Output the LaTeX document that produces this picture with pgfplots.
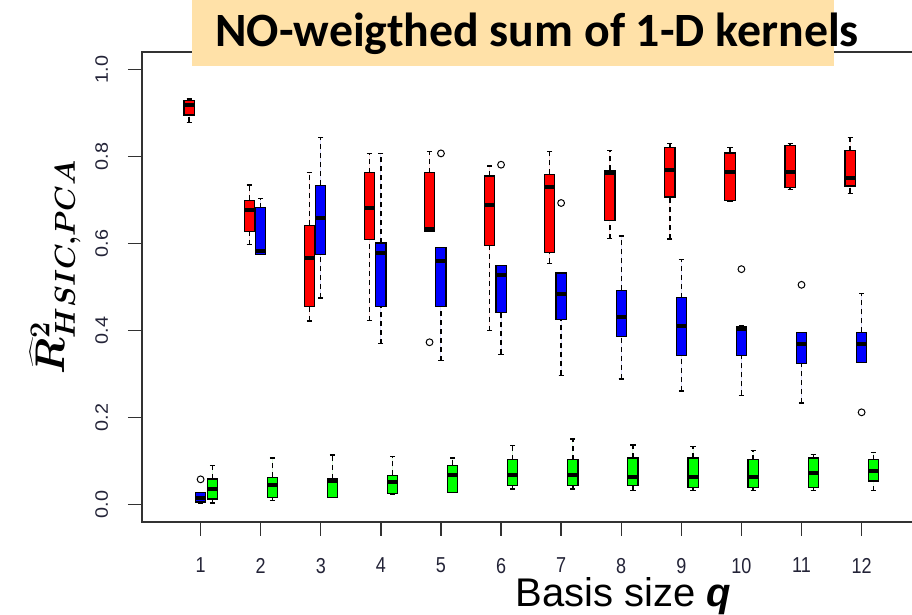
\documentclass[border=0pt]{standalone}
\usepackage{fontspec}
\setmainfont{Liberation Sans}
\newfontfamily\titlefont{Carlito}
\usepackage{bm}
\usepackage{pgfplots}
\pgfplotsset{compat=1.18}
\usepgfplotslibrary{statistics}

\definecolor{titlebg}{RGB}{255,225,168}
\definecolor{ticktext}{RGB}{35,35,55}
\definecolor{frame}{RGB}{50,50,50}

% one box: colour, position, lower whisker, Q1, median, Q3, upper whisker, outliers
\newcommand{\bx}[8]{%
  \addplot[fill=#1, draw=black, line width=0.6pt,
    mark=o, mark size=1.7pt, mark options={solid, draw=black, line width=0.5pt},
    boxplot prepared={draw position=#2, lower whisker=#3, lower quartile=#4,
      median=#5, upper quartile=#6, upper whisker=#7}]
    coordinates {#8};}

\pgfplotsset{
  boxplot/draw direction=y,
  boxplot/box extend=0.17,
  boxplot/whisker extend=0.085,
  boxplot/every median/.style={line width=2pt},
  boxplot/draw/lower whisker/.code={%
    \draw[dash pattern=on 2.5pt off 2pt, line width=0.7pt]
      (boxplot box cs:\pgfplotsboxplotvalue{lower whisker},0.5) --
      (boxplot box cs:\pgfplotsboxplotvalue{lower quartile},0.5);
    \draw[solid, line width=0.7pt]
      (boxplot whisker cs:\pgfplotsboxplotvalue{lower whisker},0) --
      (boxplot whisker cs:\pgfplotsboxplotvalue{lower whisker},1);
  },
  boxplot/draw/upper whisker/.code={%
    \draw[dash pattern=on 2.5pt off 2pt, line width=0.7pt]
      (boxplot box cs:\pgfplotsboxplotvalue{upper quartile},0.5) --
      (boxplot box cs:\pgfplotsboxplotvalue{upper whisker},0.5);
    \draw[solid, line width=0.7pt]
      (boxplot whisker cs:\pgfplotsboxplotvalue{upper whisker},0) --
      (boxplot whisker cs:\pgfplotsboxplotvalue{upper whisker},1);
  },
}

\begin{document}
\begin{tikzpicture}
\begin{axis}[
    at={(0pt,0pt)}, anchor=south west,
    scale only axis, width=389.1pt, height=235pt,
    xmin=0.025, xmax=12.975, ymin=-0.04, ymax=1.04,
    xtick={1,2,3,4,5,6,7,8,9,10,11,12},
    ytick={0,0.2,0.4,0.6,0.8,1},
    xtick pos=bottom, ytick pos=left,
    tick align=outside, major tick length=7pt,
    major tick style={frame, line width=0.7pt},
    axis line style={frame, line width=0.9pt},
    /pgf/number format/assume math mode=true,
    yticklabel style={/pgf/number format/.cd, fixed, fixed zerofill, precision=1, /tikz/.cd,
      font=\fontsize{9}{10}\selectfont, text=ticktext, xshift=-6.5pt, rotate=90, xscale=1.1, anchor=south},
    xticklabel style={font=\fontsize{9}{10}\selectfont, text=ticktext, inner sep=0.5pt,
      yshift=-10.2pt, yscale=1.2},
]
% q = 1
\bx{red}{0.81}{0.878}{0.895}{0.918}{0.929}{0.932}{}
\bx{blue}{1.0}{0.004}{0.006}{0.014}{0.027}{0.028}{(0,0.058)}
\bx{green}{1.195}{0.004}{0.013}{0.036}{0.059}{0.090}{}
% q = 2
\bx{red}{1.81}{0.597}{0.627}{0.678}{0.699}{0.734}{}
\bx{blue}{2.0}{0.574}{0.574}{0.582}{0.682}{0.703}{}
\bx{green}{2.195}{0.009}{0.017}{0.044}{0.063}{0.107}{}
% q = 3
\bx{red}{2.81}{0.422}{0.456}{0.567}{0.642}{0.763}{}
\bx{blue}{3.0}{0.475}{0.575}{0.659}{0.734}{0.843}{}
\bx{green}{3.195}{0.017}{0.017}{0.054}{0.059}{0.114}{}
% q = 4
\bx{red}{3.81}{0.423}{0.610}{0.681}{0.763}{0.807}{}
\bx{blue}{4.0}{0.370}{0.456}{0.577}{0.601}{0.807}{}
\bx{green}{4.195}{0.023}{0.025}{0.051}{0.067}{0.110}{}
% q = 5
\bx{red}{4.81}{0.627}{0.627}{0.634}{0.763}{0.811}{(0,0.373)}
\bx{blue}{5.0}{0.331}{0.456}{0.559}{0.590}{0.590}{(0,0.807)}
\bx{green}{5.195}{0.028}{0.028}{0.067}{0.090}{0.107}{}
% q = 6
\bx{red}{5.81}{0.400}{0.596}{0.689}{0.755}{0.778}{}
\bx{blue}{6.0}{0.345}{0.442}{0.527}{0.550}{0.550}{(0,0.781)}
\bx{green}{6.195}{0.036}{0.044}{0.067}{0.103}{0.136}{}
% q = 7
\bx{red}{6.81}{0.554}{0.579}{0.730}{0.759}{0.811}{}
\bx{blue}{7.0}{0.297}{0.426}{0.483}{0.532}{0.532}{(0,0.693)}
\bx{green}{7.195}{0.036}{0.044}{0.067}{0.103}{0.151}{}
% q = 8
\bx{red}{7.81}{0.611}{0.653}{0.763}{0.768}{0.813}{}
\bx{blue}{8.0}{0.289}{0.387}{0.431}{0.492}{0.617}{}
\bx{green}{8.195}{0.032}{0.044}{0.063}{0.107}{0.137}{}
% q = 9
\bx{red}{8.81}{0.610}{0.707}{0.768}{0.821}{0.830}{}
\bx{blue}{9.0}{0.261}{0.343}{0.410}{0.475}{0.563}{}
\bx{green}{9.195}{0.032}{0.040}{0.063}{0.107}{0.133}{}
% q = 10
\bx{red}{9.81}{0.698}{0.699}{0.765}{0.808}{0.821}{}
\bx{blue}{10.0}{0.251}{0.343}{0.404}{0.410}{0.410}{(0,0.541)}
\bx{green}{10.195}{0.032}{0.040}{0.063}{0.103}{0.124}{}
% q = 11
\bx{red}{10.81}{0.724}{0.728}{0.765}{0.826}{0.830}{}
\bx{blue}{11.0}{0.233}{0.324}{0.370}{0.396}{0.396}{(0,0.505)}
\bx{green}{11.195}{0.032}{0.040}{0.072}{0.107}{0.115}{}
% q = 12
\bx{red}{11.81}{0.715}{0.732}{0.751}{0.813}{0.844}{}
\bx{blue}{12.0}{0.327}{0.327}{0.370}{0.396}{0.485}{(0,0.212)}
\bx{green}{12.195}{0.032}{0.054}{0.077}{0.103}{0.120}{}
\end{axis}

% title banner over the top of the frame
\fill[titlebg] (25pt,228pt) rectangle (346pt,262pt);
\node[anchor=base west, inner sep=0pt, font=\titlefont\bfseries\fontsize{23.9}{28}\selectfont]
  at (36.5pt,237.5pt) {NO-weigthed sum of 1-D kernels};

\node[rotate=90, font=\fontsize{21}{24}\selectfont] at (-43.5pt,127.5pt)
  {$\bm{\widehat{R}^2_{HSIC,PCA}}$};
\node[anchor=base west, inner sep=0pt, font=\fontsize{20}{24}\selectfont]
  at (186.5pt,-42.3pt) {Basis size \textbf{\textit{q}}};

\pgfresetboundingbox
\path[use as bounding box] (-71pt,-46.5pt) rectangle (385pt,261pt);
\end{tikzpicture}
\end{document}
